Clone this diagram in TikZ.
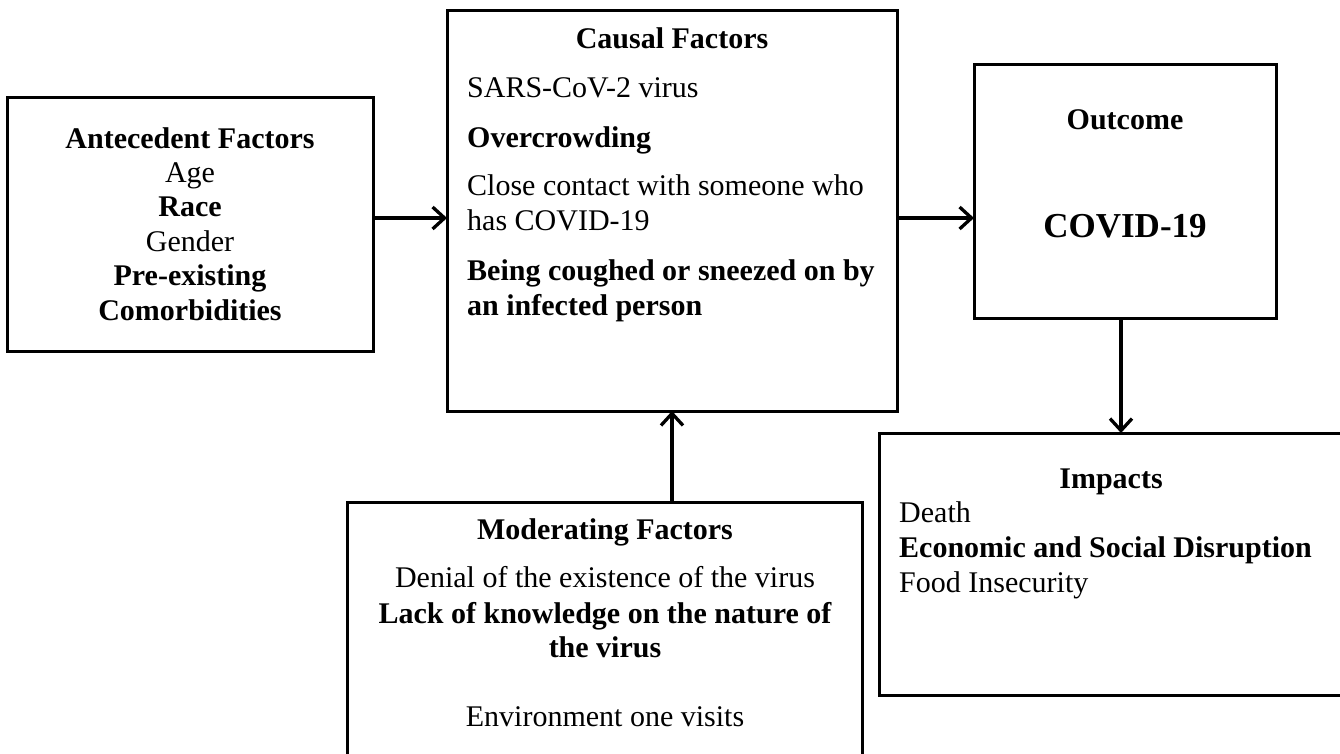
\documentclass[tikz,border=0pt]{standalone}
\usepackage{fontspec}
\setmainfont{Liberation Serif}
\usetikzlibrary{arrows.meta}
\begin{document}
\begin{tikzpicture}[x=1pt,y=-1pt,
  box/.style={draw, line width=3pt, inner sep=0pt, outer sep=0pt},
  txt/.style={inner sep=0pt, font=\fontsize{30}{34.4}\selectfont},
  bold/.style={inner sep=0pt, font=\fontsize{30}{34.4}\selectfont\bfseries},
  big/.style={inner sep=0pt, font=\fontsize{35}{40}\selectfont\bfseries},
  conn/.style={line width=3.3pt, -{Straight Barb[length=12pt,width=22pt]}}]
\fill[white] (0,0) rectangle (1340,753);
\useasboundingbox (0,0) rectangle (1340,753);
\clip (0,0) rectangle (1340,753);

% boxes
\node[box, minimum width=366pt, minimum height=254pt] (ante) at (190,224) {};
\node[box, minimum width=450pt, minimum height=401pt] (causal) at (672,210.5) {};
\node[box, minimum width=302pt, minimum height=254pt] (outcome) at (1125,191) {};
\node[box, minimum width=463pt, minimum height=262pt] (impacts) at (1110.5,564) {};
\node[box, minimum width=515pt, minimum height=258pt] (moder) at (604.5,631) {};

% antecedent text
\node[bold, anchor=base] (a1) at (190,148) {Antecedent Factors};
\node[txt, anchor=base] (a2) at (190,182.4) {Age};
\node[bold, anchor=base] (a3) at (190,216.8) {Race};
\node[txt, anchor=base] (a4) at (190,251.2) {Gender};
\node[bold, anchor=base] (a5) at (190,285.6) {Pre-existing};
\node[bold, anchor=base] (a6) at (190,320) {Comorbidities};

% causal text
\node[bold, anchor=base] (c0) at (672,48) {Causal Factors};
\node[txt, anchor=base west] (c1) at (467,97) {SARS-CoV-2 virus};
\node[bold, anchor=base west] (c2) at (467,147) {Overcrowding};
\node[txt, anchor=base west] (c3) at (467,195) {Close contact with someone who};
\node[txt, anchor=base west] (c4) at (467,230) {has COVID-19};
\node[bold, anchor=base west] (c5) at (467,280) {Being coughed or sneezed on by};
\node[bold, anchor=base west] (c6) at (467,315) {an infected person};

% outcome text
\node[bold, anchor=base] (o1) at (1125,129) {Outcome};
\node[big, anchor=base] (o2) at (1125,237) {COVID-19};

% impacts text
\node[bold, anchor=base] (i0) at (1111,488) {Impacts};
\node[txt, anchor=base west] (i1) at (899,522) {Death};
\node[bold, anchor=base west] (i2) at (899,557) {Economic and Social Disruption};
\node[txt, anchor=base west] (i3) at (899,592) {Food Insecurity};

% moderating text
\node[bold, anchor=base] (m0) at (605,539) {Moderating Factors};
\node[txt, anchor=base] (m1) at (605,587) {Denial of the existence of the virus};
\node[bold, anchor=base] (m2) at (605,623) {Lack of knowledge on the nature of};
\node[bold, anchor=base] (m3) at (605,657) {the virus};
\node[txt, anchor=base] (m4) at (605,726) {Environment one visits};

% connectors
\coordinate (row) at (0,218);
\draw[conn] (ante.east |- row) -- (causal.west |- row);
\draw[conn] (causal.east |- row) -- (outcome.west |- row);
\coordinate (col) at (1121,0);
\draw[conn] (outcome.south -| col) -- (impacts.north -| col);
\draw[conn] (moder.north -| causal.south) -- (causal.south);
\end{tikzpicture}
\end{document}
